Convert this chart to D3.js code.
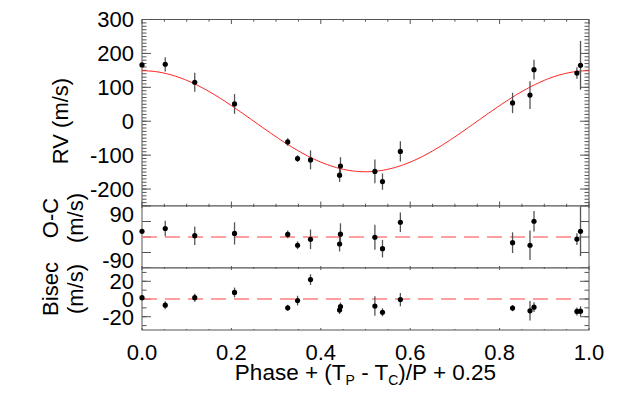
<!DOCTYPE html>
<html>
<head>
<meta charset="utf-8">
<script src="https://cdn.jsdelivr.net/npm/d3@7"></script>
<style>
  body { margin: 0; background: #fff; }
  svg text { font-family: "Liberation Sans", Arial, Helvetica, sans-serif; fill: #000; }
</style>
</head>
<body>
<svg id="chart" width="619" height="413"></svg>
<script>
// values
var phase  = [0.000, 0.052, 0.118, 0.207, 0.326, 0.348, 0.377, 0.444, 0.442, 0.521, 0.538, 0.578, 0.829, 0.868, 0.877, 0.973, 0.981];
var rv     = [166, 168, 115, 51, -61, -110, -114, -132, -159, -148, -178, -89, 54, 77, 152, 142, 165];
var rvErr  = [4, 21, 28, 29, 11, 10, 28, 26, 20, 35, 24, 30, 30, 41, 29, 17, 72];
var oc     = [22, 33, 5, 14, 10, -32, -9, 11, -27, -1, -45, 57, -22, -32, 61, -8, 22];
var ocErr  = [4, 30, 36, 43, 15, 15, 38, 42, 29, 48, 34, 38, 40, 57, 40, 23, 96];
var bis    = [1.5, -7, 1.5, 7.4, -10, -1.8, 21.9, -8.5, -12.5, -8, -15, -0.7, -10.3, -13.3, -9.2, -14, -13.7];
var bisErr = [1, 4.5, 4.5, 5.5, 3.5, 5.5, 6, 4.5, 4.5, 11, 4.5, 7.5, 3.5, 11, 5.5, 4.5, 5.5];

// circular orbit fit
var fitK = 149, fitGamma = 0;

var rvTicks = [300, 200, 100, 0, -100, -200];
var ocTickLabels = [90, 0, -90];
var ocTickMarks = [-120, -60, 0, 60, 120];
var bisTicks = [20, 0, -20];
var xTicks = [0, 0.2, 0.4, 0.6, 0.8, 1.0];

var svg = d3.select('#chart');
var left = 142, right = 589;
var x = d3.scaleLinear().domain([0, 1]).range([left, right]);

var panels = [
  {y: d3.scaleLinear().domain([-250, 300]).range([206, 19.5]), vals: rv, errs: rvErr,
   major: d3.range(-200, 301, 100), minor: d3.range(-250, 301, 10), labels: rvTicks, xt: 4.5},
  {y: d3.scaleLinear().domain([-120, 120]).range([268, 206]), vals: oc, errs: ocErr,
   major: ocTickMarks, minor: [], labels: ocTickLabels, xt: 2},
  {y: d3.scaleLinear().domain([-35, 35]).range([330, 268]), vals: bis, errs: bisErr,
   major: [-20, 0, 20], minor: d3.range(-30, 31, 10), labels: bisTicks, xt: 2}
];

var axisColor = '#555';

panels.forEach(function (p, idx) {
  var g = svg.append('g');
  var y0 = p.y.range()[0], y1 = p.y.range()[1];
  g.append('rect').attr('x', left).attr('y', y1).attr('width', right - left).attr('height', y0 - y1)
    .attr('fill', '#fff').attr('stroke', axisColor).attr('stroke-width', 1);

  // y ticks, both sides
  var yt = [];
  p.minor.forEach(function (v) { yt.push({v: v, len: 4.5}); });
  p.major.forEach(function (v) { yt.push({v: v, len: 9}); });
  g.selectAll('.ytl').data(yt).enter().append('line')
    .attr('x1', left).attr('x2', function (d) { return left + d.len; })
    .attr('y1', function (d) { return p.y(d.v); }).attr('y2', function (d) { return p.y(d.v); })
    .attr('stroke', axisColor);
  g.selectAll('.ytr').data(yt).enter().append('line')
    .attr('x1', right).attr('x2', function (d) { return right - d.len; })
    .attr('y1', function (d) { return p.y(d.v); }).attr('y2', function (d) { return p.y(d.v); })
    .attr('stroke', axisColor);

  // x ticks, top and bottom
  var xt = d3.range(0, 21).map(function (i) { return {v: i / 20, len: (i % 4 === 0) ? p.xt : p.xt / 2}; });
  g.selectAll('.xtb').data(xt).enter().append('line')
    .attr('x1', function (d) { return x(d.v); }).attr('x2', function (d) { return x(d.v); })
    .attr('y1', y0).attr('y2', function (d) { return y0 - d.len; })
    .attr('stroke', axisColor);
  g.selectAll('.xtt').data(xt).enter().append('line')
    .attr('x1', function (d) { return x(d.v); }).attr('x2', function (d) { return x(d.v); })
    .attr('y1', y1).attr('y2', function (d) { return y1 + d.len; })
    .attr('stroke', axisColor);

  g.selectAll('.yl').data(p.labels).enter().append('text')
    .attr('x', 134).attr('y', function (d) { return p.y(d); })
    .attr('dy', '0.36em').attr('text-anchor', 'end').attr('font-size', 22)
    .text(function (d) { return d; });

  if (idx === 0) {
    var curve = d3.range(0, 201).map(function (i) { return i / 200; });
    g.append('path').datum(curve)
      .attr('fill', 'none').attr('stroke', '#ff2020').attr('stroke-width', 1)
      .attr('d', d3.line().x(function (d) { return x(d); })
        .y(function (d) { return p.y(fitGamma + fitK * Math.cos(2 * Math.PI * d)); }));
  } else {
    g.append('line')
      .attr('x1', x(d3.min(phase))).attr('x2', x(d3.max(phase)))
      .attr('y1', p.y(0)).attr('y2', p.y(0))
      .attr('stroke', '#ff8080').attr('stroke-width', 1.3).attr('stroke-dasharray', '15 8');
  }

  var pts = phase.map(function (ph, i) { return {ph: ph, v: p.vals[i], e: p.errs[i]}; });
  g.selectAll('.err').data(pts).enter().append('line')
    .attr('x1', function (d) { return x(d.ph); }).attr('x2', function (d) { return x(d.ph); })
    .attr('y1', function (d) { return p.y(d.v - d.e); }).attr('y2', function (d) { return p.y(d.v + d.e); })
    .attr('stroke', '#555').attr('stroke-width', 1.3);
  g.selectAll('.dot').data(pts).enter().append('circle')
    .attr('cx', function (d) { return x(d.ph); }).attr('cy', function (d) { return p.y(d.v); })
    .attr('r', 2.6).attr('fill', '#000');
});

// x labels
svg.selectAll('.xl').data(xTicks).enter().append('text')
  .attr('x', function (d) { return x(d); }).attr('y', 360)
  .attr('text-anchor', 'middle').attr('font-size', 22)
  .text(function (d) { return d.toFixed(1); });

var title = svg.append('text').attr('x', (left + right) / 2).attr('y', 380)
  .attr('text-anchor', 'middle').attr('font-size', 22.5);
title.append('tspan').text('Phase + (T');
title.append('tspan').attr('font-size', 14).attr('dy', 5).text('P');
title.append('tspan').attr('dy', -5).text(' - T');
title.append('tspan').attr('font-size', 14).attr('dy', 5).text('C');
title.append('tspan').attr('dy', -5).text(')/P + 0.25');

// y titles
function yTitle(lines, xs, cy) {
  lines.forEach(function (t, i) {
    svg.append('text')
      .attr('transform', 'translate(' + xs[i] + ',' + cy + ') rotate(-90)')
      .attr('text-anchor', 'middle').attr('font-size', 22).text(t);
  });
}
yTitle(['RV (m/s)'], [68], 121);
yTitle(['O-C', '(m/s)'], [58, 83], 218);
yTitle(['Bisec', '(m/s)'], [58, 83], 289);
</script>
</body>
</html>
